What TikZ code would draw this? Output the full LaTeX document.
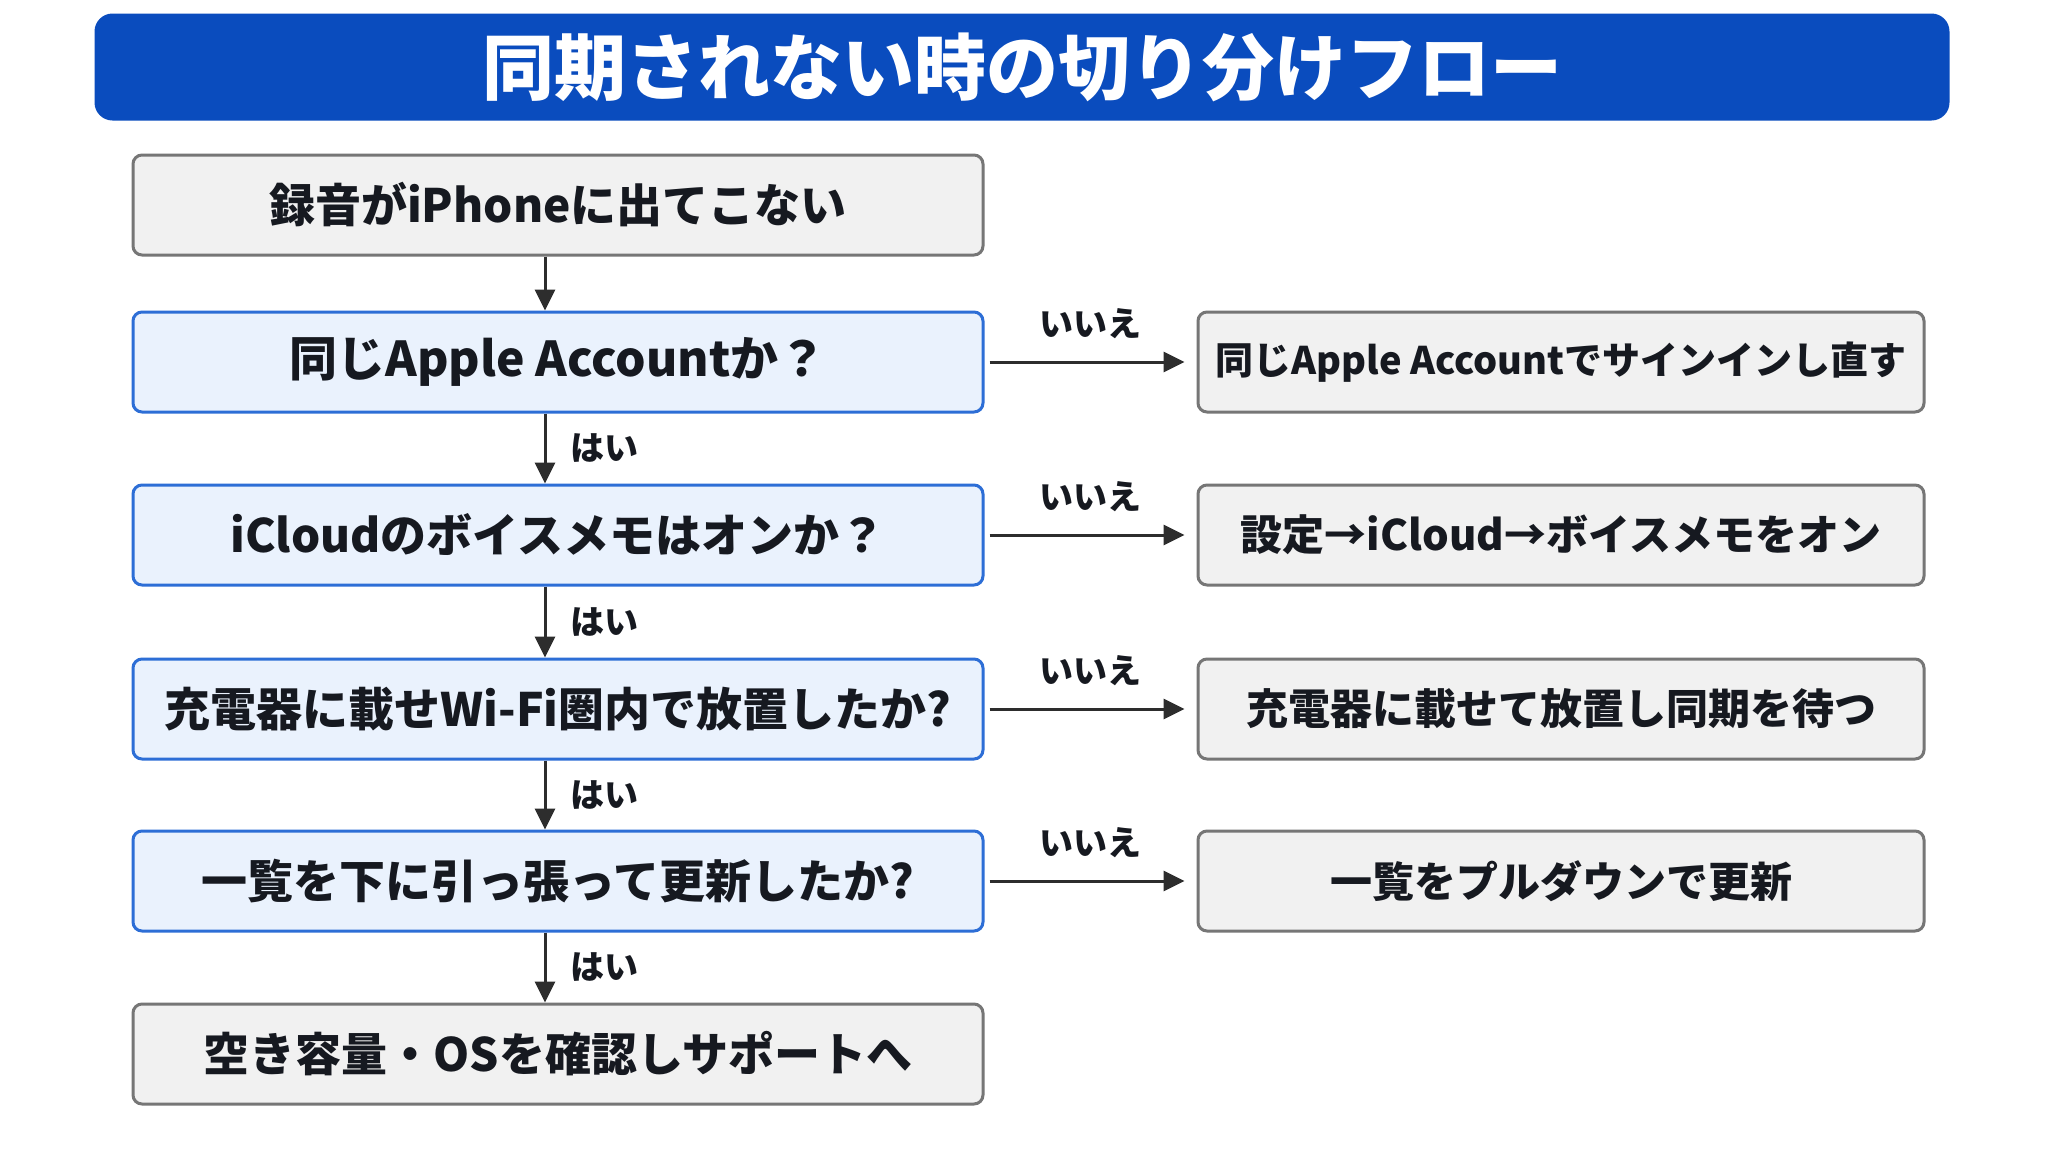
\documentclass[tikz,border=0pt]{standalone}
\usepackage{fontspec}
\setmainfont{Noto Sans CJK JP}
\usetikzlibrary{arrows.meta}

\definecolor{titleblue}{RGB}{10,76,190}
\definecolor{boxgray}{RGB}{118,118,118}
\definecolor{boxfill}{RGB}{241,241,241}
\definecolor{qblue}{RGB}{45,110,214}
\definecolor{qfill}{RGB}{234,242,253}
\definecolor{textdark}{RGB}{22,25,32}
\definecolor{arrowdark}{RGB}{45,45,45}

\begin{document}
\begin{tikzpicture}[x=1pt,y=-1pt,
	endbox/.style={draw=boxgray, fill=boxfill, line width=3pt, rounded corners=9pt,
		minimum width=850pt, minimum height=100pt, text=textdark,
		font=\fontsize{46}{50}\selectfont\bfseries},
	askbox/.style={endbox, draw=qblue, fill=qfill},
	fixbox/.style={endbox, minimum width=726pt, font=\fontsize{42}{46}\selectfont\bfseries},
	flow/.style={draw=arrowdark, line width=3pt, -{Triangle[length=21pt,width=20pt]}},
	tag/.style={text=textdark, inner sep=2pt, font=\fontsize{34}{36}\selectfont\bfseries}]
	\useasboundingbox[fill=white] (0,0) rectangle (2048,1152);

	% title bar
	\node[fill=titleblue, rounded corners=18pt, minimum width=1855pt, minimum height=107pt,
		text=white, font=\fontsize{72}{76}\selectfont\bfseries] (title) at (1022,67) {同期されない時の切り分けフロー};

	% left column
	\node[endbox] (start) at (558,205) {録音がiPhoneに出てこない};
	\node[askbox, font=\fontsize{48}{52}\selectfont\bfseries] (acct) at (558,362) {同じApple Accountか？};
	\node[askbox] (icloud) at (558,535) {iCloudのボイスメモはオンか？};
	\node[askbox] (charge) at (558,709) {充電器に載せWi-Fi圏内で放置したか?};
	\node[askbox] (pull) at (558,881) {一覧を下に引っ張って更新したか?};
	\node[endbox] (support) at (558,1054) {空き容量・OSを確認しサポートへ};

	% right column
	\node[fixbox, font=\fontsize{38}{42}\selectfont\bfseries] (signin) at (1561,362) {同じApple Accountでサインインし直す};
	\node[fixbox] (turnon) at (1561,535) {設定→iCloud→ボイスメモをオン};
	\node[fixbox] (wait) at (1561,709) {充電器に載せて放置し同期を待つ};
	\node[fixbox] (refresh) at (1561,881) {一覧をプルダウンで更新};

	% yes arrows
	\draw[flow] ([xshift=-13pt]start.south) -- ([xshift=-13pt]acct.north);
	\draw[flow] ([xshift=-13pt]acct.south) -- node[tag, right=22pt] {はい} ([xshift=-13pt]icloud.north);
	\draw[flow] ([xshift=-13pt]icloud.south) -- node[tag, right=22pt] {はい} ([xshift=-13pt]charge.north);
	\draw[flow] ([xshift=-13pt]charge.south) -- node[tag, right=22pt] {はい} ([xshift=-13pt]pull.north);
	\draw[flow] ([xshift=-13pt]pull.south) -- node[tag, right=22pt] {はい} ([xshift=-13pt]support.north);

	% no arrows
	\draw[flow, shorten <=5pt, shorten >=12pt] (acct.east) -- node[tag, above=20pt] {いいえ} (signin.west);
	\draw[flow, shorten <=5pt, shorten >=12pt] (icloud.east) -- node[tag, above=20pt] {いいえ} (turnon.west);
	\draw[flow, shorten <=5pt, shorten >=12pt] (charge.east) -- node[tag, above=20pt] {いいえ} (wait.west);
	\draw[flow, shorten <=5pt, shorten >=12pt] (pull.east) -- node[tag, above=20pt] {いいえ} (refresh.west);
\end{tikzpicture}
\end{document}
